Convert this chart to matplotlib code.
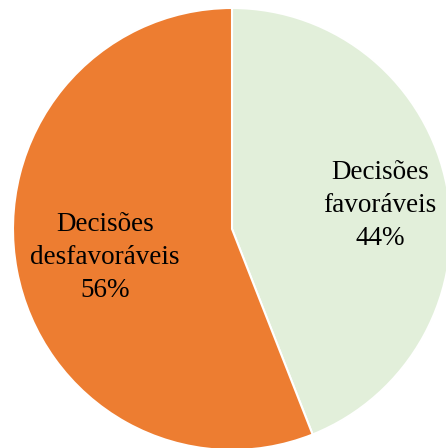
import matplotlib

matplotlib.use("Agg")
import matplotlib.pyplot as plt

# Pie data (clockwise from 12 o'clock)
labels = ["Decisões\nfavoráveis", "Decisões\ndesfavoráveis"]
shares = [44, 56]
colors = ["#E2EFDA", "#ED7D31"]

# label centres in data units (radius = 1)
label_pos = [(0.675, 0.105), (-0.58, -0.13)]

fig = plt.figure(figsize=(4.46, 4.48), dpi=100, facecolor="white")
ax = fig.add_axes([0, 0, 1, 1])

wedges, _ = ax.pie(
    shares,
    startangle=90,
    counterclock=False,
    colors=colors,
    radius=1.0,
    center=(0, 0),
    wedgeprops={"edgecolor": "white", "linewidth": 1.5},
)

for (x, y), lab, val in zip(label_pos, labels, shares):
    ax.text(
        x, y, f"{lab}\n{val}%",
        ha="center", va="center",
        fontsize=19.5, family="Liberation Serif", color="black",
        linespacing=1.42,
    )

# circle centre at (232, 229) px, radius ~219 px wide, 221 px tall
rx, ry = 219.0, 221.0
ax.set_aspect("auto")
ax.set_xlim(-232 / rx, (446 - 232) / rx)
ax.set_ylim(-(448 - 229) / ry, 229 / ry)
ax.axis("off")

fig.savefig("out.png", dpi=100, facecolor="white")
